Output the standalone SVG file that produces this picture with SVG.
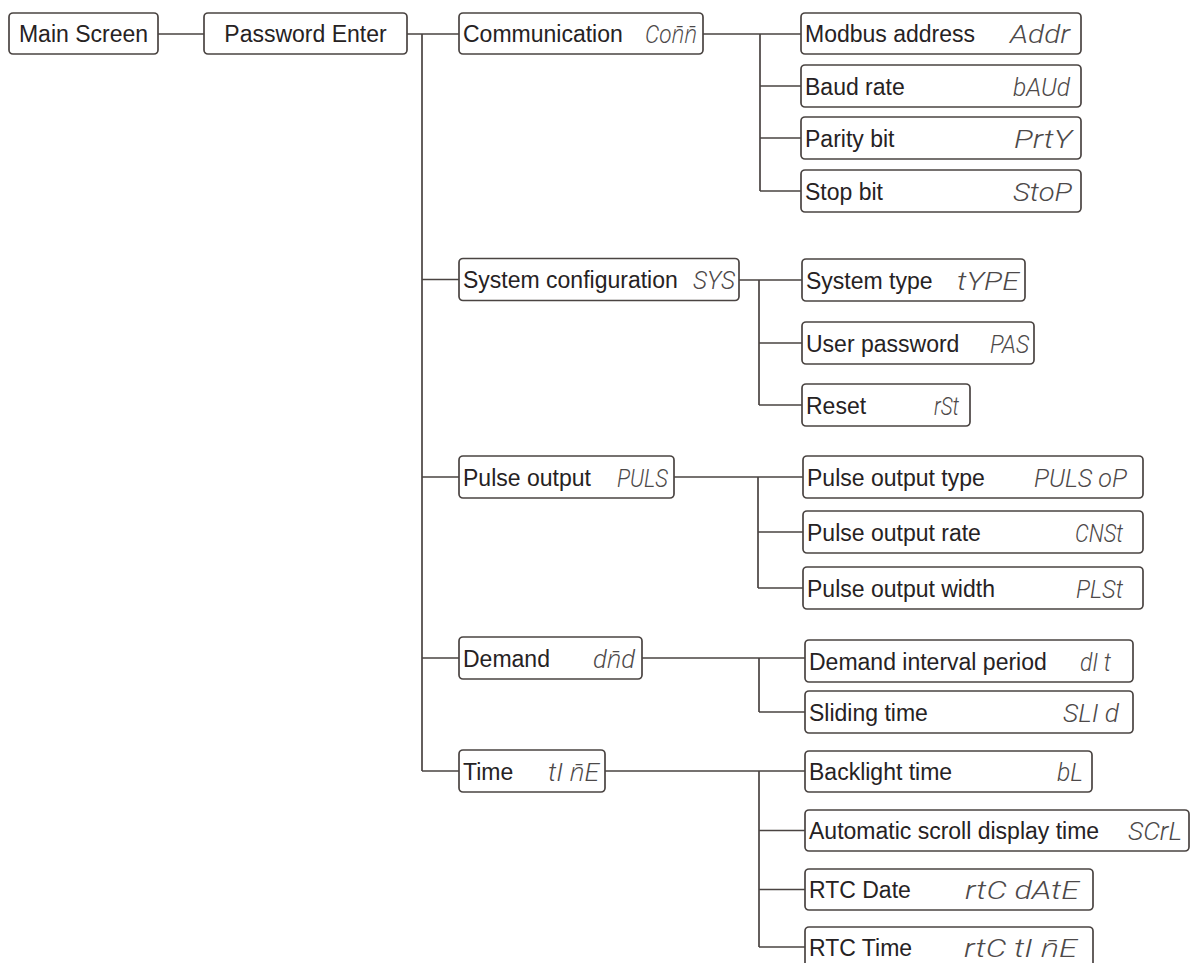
<svg xmlns="http://www.w3.org/2000/svg" width="1191" height="963" viewBox="0 0 1191 963">
<style>
.box{fill:#ffffff;stroke:#4a4442;stroke-width:1.7}
.lbl{font-family:"Liberation Sans",Arial,sans-serif;font-size:23px;fill:#262223}
.ctr{text-anchor:middle}
.code{font-family:Roboto,"Open Sans",sans-serif;font-weight:300;font-style:italic;font-size:26px;fill:#4d4949}
.conn{fill:none;stroke:#4a4442;stroke-width:1.7}
</style>
<rect x="0" y="0" width="1191" height="963" fill="#ffffff"/>
<g id="connectors" class="conn">
<path d="M158,34 H204 M407,34 H459 M422,34 V771 M422,279.5 H459 M422,477 H459 M422,658 H459 M422,771 H459"/>
<path d="M703,34 H801 M760,34 V191 M760,86 H801 M760,138 H801 M760,191 H801"/>
<path d="M739,280 H802 M759,280 V405 M759,343 H802 M759,405 H802"/>
<path d="M674,477 H803 M758,477 V588 M758,532 H803 M758,588 H803"/>
<path d="M642,658 H805 M759,658 V712 M759,712 H805"/>
<path d="M605,771 H805 M759,771 V947 M759,830.5 H805 M759,889.5 H805 M759,947 H805"/>
</g>
<g id="main-screen"><rect class="box" x="9" y="13" width="149" height="41" rx="4"/><text class="lbl ctr" x="83.5" y="42">Main Screen</text></g>
<g id="password-enter"><rect class="box" x="204" y="13" width="203" height="41" rx="4"/><text class="lbl ctr" x="305.5" y="42">Password Enter</text></g>
<g id="communication"><rect class="box" x="459" y="13" width="244" height="41" rx="4"/><text class="lbl" x="463" y="42">Communication</text><text class="code" x="645" y="43" textLength="52" lengthAdjust="spacingAndGlyphs">Con&#x304;n&#x304;</text></g>
<g id="system-configuration"><rect class="box" x="459" y="258.5" width="280" height="42" rx="4"/><text class="lbl" x="463" y="288">System configuration</text><text class="code" x="693" y="289" textLength="42" lengthAdjust="spacingAndGlyphs">SYS</text></g>
<g id="pulse-output"><rect class="box" x="459" y="456" width="215" height="42" rx="4"/><text class="lbl" x="463" y="485.5">Pulse output</text><text class="code" x="617" y="486.5" textLength="51" lengthAdjust="spacingAndGlyphs">PULS</text></g>
<g id="demand"><rect class="box" x="459" y="637" width="183" height="42" rx="4"/><text class="lbl" x="463" y="666.5">Demand</text><text class="code" x="593" y="667.5" textLength="42" lengthAdjust="spacingAndGlyphs">dn&#x304;d</text></g>
<g id="time"><rect class="box" x="459" y="750" width="146" height="42" rx="4"/><text class="lbl" x="463" y="779.5">Time</text><text class="code" x="548" y="780.5" textLength="51" lengthAdjust="spacingAndGlyphs">tI n&#x304;E</text></g>
<g id="modbus-address"><rect class="box" x="801" y="13" width="280" height="41" rx="4"/><text class="lbl" x="805" y="42">Modbus address</text><text class="code" x="1010" y="43" textLength="60" lengthAdjust="spacingAndGlyphs">Addr</text></g>
<g id="baud-rate"><rect class="box" x="801" y="65" width="280" height="42" rx="4"/><text class="lbl" x="805" y="94.5">Baud rate</text><text class="code" x="1013" y="95.5" textLength="57" lengthAdjust="spacingAndGlyphs">bAUd</text></g>
<g id="parity-bit"><rect class="box" x="801" y="117" width="280" height="42" rx="4"/><text class="lbl" x="805" y="146.5">Parity bit</text><text class="code" x="1014" y="147.5" textLength="58" lengthAdjust="spacingAndGlyphs">PrtY</text></g>
<g id="stop-bit"><rect class="box" x="801" y="170" width="280" height="42" rx="4"/><text class="lbl" x="805" y="199.5">Stop bit</text><text class="code" x="1013" y="200.5" textLength="59" lengthAdjust="spacingAndGlyphs">StoP</text></g>
<g id="system-type"><rect class="box" x="802" y="259" width="223" height="42" rx="4"/><text class="lbl" x="806" y="288.5">System type</text><text class="code" x="957" y="289.5" textLength="62" lengthAdjust="spacingAndGlyphs">tYPE</text></g>
<g id="user-password"><rect class="box" x="802" y="322" width="232" height="42" rx="4"/><text class="lbl" x="806" y="351.5">User password</text><text class="code" x="990" y="352.5" textLength="39" lengthAdjust="spacingAndGlyphs">PAS</text></g>
<g id="reset"><rect class="box" x="802" y="384" width="168" height="42" rx="4"/><text class="lbl" x="806" y="413.5">Reset</text><text class="code" x="934" y="414.5" textLength="25" lengthAdjust="spacingAndGlyphs">rSt</text></g>
<g id="pulse-output-type"><rect class="box" x="803" y="456" width="340" height="42" rx="4"/><text class="lbl" x="807" y="485.5">Pulse output type</text><text class="code" x="1034" y="486.5" textLength="93" lengthAdjust="spacingAndGlyphs">PULS oP</text></g>
<g id="pulse-output-rate"><rect class="box" x="803" y="511" width="340" height="42" rx="4"/><text class="lbl" x="807" y="540.5">Pulse output rate</text><text class="code" x="1075" y="541.5" textLength="48" lengthAdjust="spacingAndGlyphs">CNSt</text></g>
<g id="pulse-output-width"><rect class="box" x="803" y="567" width="340" height="42" rx="4"/><text class="lbl" x="807" y="596.5">Pulse output width</text><text class="code" x="1076" y="597.5" textLength="47" lengthAdjust="spacingAndGlyphs">PLSt</text></g>
<g id="demand-interval-period"><rect class="box" x="805" y="640" width="328" height="42" rx="4"/><text class="lbl" x="809" y="669.5">Demand interval period</text><text class="code" x="1080" y="670.5" textLength="31" lengthAdjust="spacingAndGlyphs">dI t</text></g>
<g id="sliding-time"><rect class="box" x="805" y="691" width="328" height="42" rx="4"/><text class="lbl" x="809" y="720.5">Sliding time</text><text class="code" x="1063" y="721.5" textLength="56" lengthAdjust="spacingAndGlyphs">SLI d</text></g>
<g id="backlight-time"><rect class="box" x="805" y="751" width="287" height="41" rx="4"/><text class="lbl" x="809" y="780">Backlight time</text><text class="code" x="1057" y="781" textLength="26" lengthAdjust="spacingAndGlyphs">bL</text></g>
<g id="automatic-scroll-display-time"><rect class="box" x="805" y="810" width="384" height="41" rx="4"/><text class="lbl" x="809" y="839">Automatic scroll display time</text><text class="code" x="1128" y="840" textLength="54" lengthAdjust="spacingAndGlyphs">SCrL</text></g>
<g id="rtc-date"><rect class="box" x="805" y="869" width="288" height="41" rx="4"/><text class="lbl" x="809" y="898">RTC Date</text><text class="code" x="965" y="899" textLength="114" lengthAdjust="spacingAndGlyphs">rtC dAtE</text></g>
<g id="rtc-time"><rect class="box" x="805" y="927" width="288" height="41" rx="4"/><text class="lbl" x="809" y="956">RTC Time</text><text class="code" x="964" y="957" textLength="113" lengthAdjust="spacingAndGlyphs">rtC tI n&#x304;E</text></g>
</svg>
